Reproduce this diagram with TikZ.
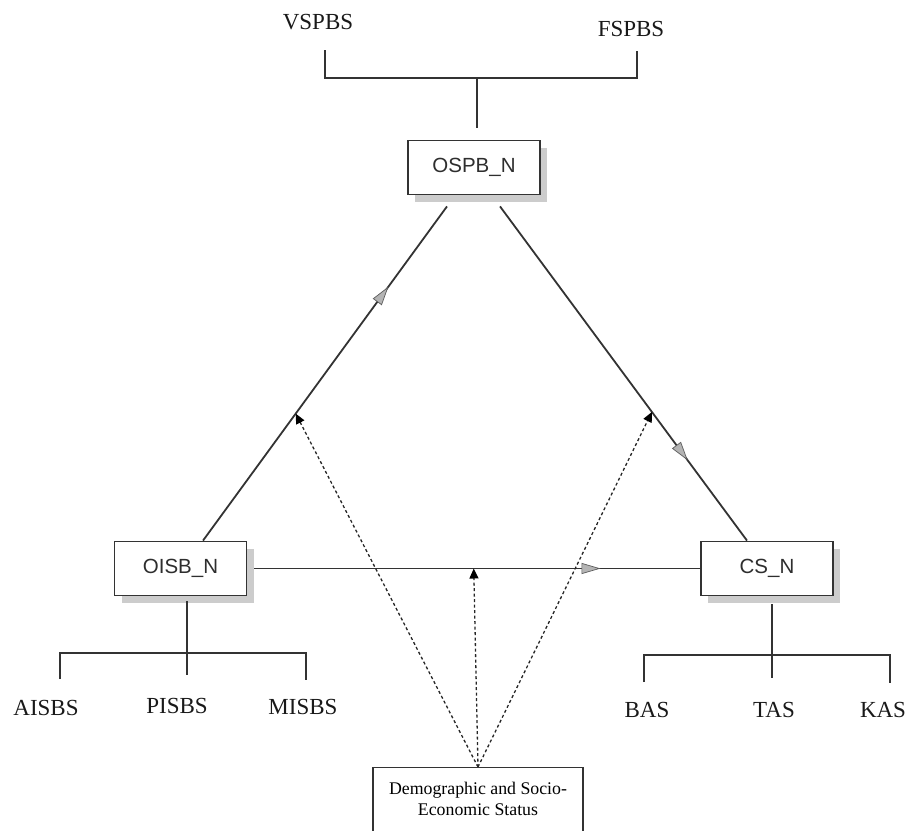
\documentclass[tikz,border=0pt]{standalone}
\usepackage{fontspec}
\setmainfont{Liberation Serif}
\newfontfamily\boxfont{Liberation Sans}
\usetikzlibrary{arrows.meta,decorations.markings,shadows,calc,backgrounds}

\definecolor{edgeline}{HTML}{333333}
\definecolor{boxtext}{HTML}{2E2E2E}
\definecolor{tipgray}{HTML}{B4B4B4}

\begin{document}
\begin{tikzpicture}[x=1pt,y=-1pt,
  construct/.style={draw=edgeline, line width=1.8pt, fill=white,
    minimum width=132pt, minimum height=54pt, inner sep=0pt,
    font=\boxfont\fontsize{20.5}{24}\selectfont, text=boxtext,
    drop shadow={shadow xshift=7pt, shadow yshift=-7pt, fill=black!20, opacity=1}},
  indicator/.style={font=\fontsize{23}{27}\selectfont, text=black!90, inner sep=0pt},
  bracket/.style={draw=edgeline, line width=1.2pt},
  structural/.style={draw=edgeline, line width=1.8pt, postaction={decorate},
    decoration={markings, mark=at position #1 with
      {\arrow{Triangle[length=19pt,width=11pt,fill=tipgray,color=edgeline!80,line width=0.7pt]}}}},
  moderate/.style={draw=black!85, line width=1.3pt, dash pattern=on 3pt off 2.5pt,
    -{Triangle[length=10pt,width=9pt,fill=black,color=black]}}]

\useasboundingbox (0,0) rectangle (910,830);
\clip (0,0) rectangle (910,830);

% latent constructs
\node[construct] (ospb) at (474,167.5) {OSPB\_N};
\node[construct] (oisb) at (180.5,568.5) {OISB\_N};
\node[construct] (csn)  at (767,568.5) {CS\_N};

% moderator box (runs past the lower edge)
\node[draw=edgeline, line width=1.4pt, fill=white, minimum width=210pt,
      minimum height=100pt, anchor=north] (demo) at (478,767) {};
\node[font=\fontsize{17.8}{21}\selectfont, align=center, inner sep=0pt] (demotext)
      at (478,799) {Demographic and Socio-\\Economic Status};

% indicators
\node[indicator] (vspbs) at (318,22) {VSPBS};
\node[indicator] (fspbs) at (631,28.5) {FSPBS};
\node[indicator] (aisbs) at (46,707.5) {AISBS};
\node[indicator] (pisbs) at (177,705.5) {PISBS};
\node[indicator] (misbs) at (303,707) {MISBS};
\node[indicator] (bas) at (647,710) {BAS};
\node[indicator] (tas) at (774,710) {TAS};
\node[indicator] (kas) at (883,710) {KAS};

% indicator brackets
\coordinate (tl) at (325,50);  \coordinate (tr) at (637,51);
\coordinate (tm) at (477,78);  \coordinate (ts) at (477,128);
\draw[bracket] (tl) |- (tm) -| (tr);
\draw[bracket] (tm) -- (ts);

\coordinate (ll) at (60,679);  \coordinate (lr) at (306,680);
\coordinate (lm) at (187,653); \coordinate (ls) at (187,601); \coordinate (le) at (187,675);
\draw[bracket] (ll) |- (lm) -| (lr);
\draw[bracket] (ls) -- (le);

\coordinate (rl) at (644,682); \coordinate (rr) at (890,683);
\coordinate (rm) at (772,655); \coordinate (rs) at (772,604); \coordinate (re) at (772,678);
\draw[bracket] (rl) |- (rm) -| (rr);
\draw[bracket] (rs) -- (re);

% structural paths and moderating effects
\begin{scope}[on background layer]
  \draw[structural=0.76] ($(oisb.north)+(22.5,0)$) -- coordinate[pos=0.38] (hitL) ($(ospb.south)+(-27,11)$);
  \draw[structural=0.76] ($(ospb.south)+(26,11)$) -- coordinate[pos=0.615] (hitR) ($(csn.north)+(-20,0)$);
  \draw[structural=0.78] (oisb.east) -- coordinate[pos=0.5] (hitB) (csn.west);
  \draw[moderate] (demo.north) -- (hitL);
  \draw[moderate] (demo.north) -- (hitB);
  \draw[moderate] (demo.north) -- (hitR);
\end{scope}
\end{tikzpicture}
\end{document}
